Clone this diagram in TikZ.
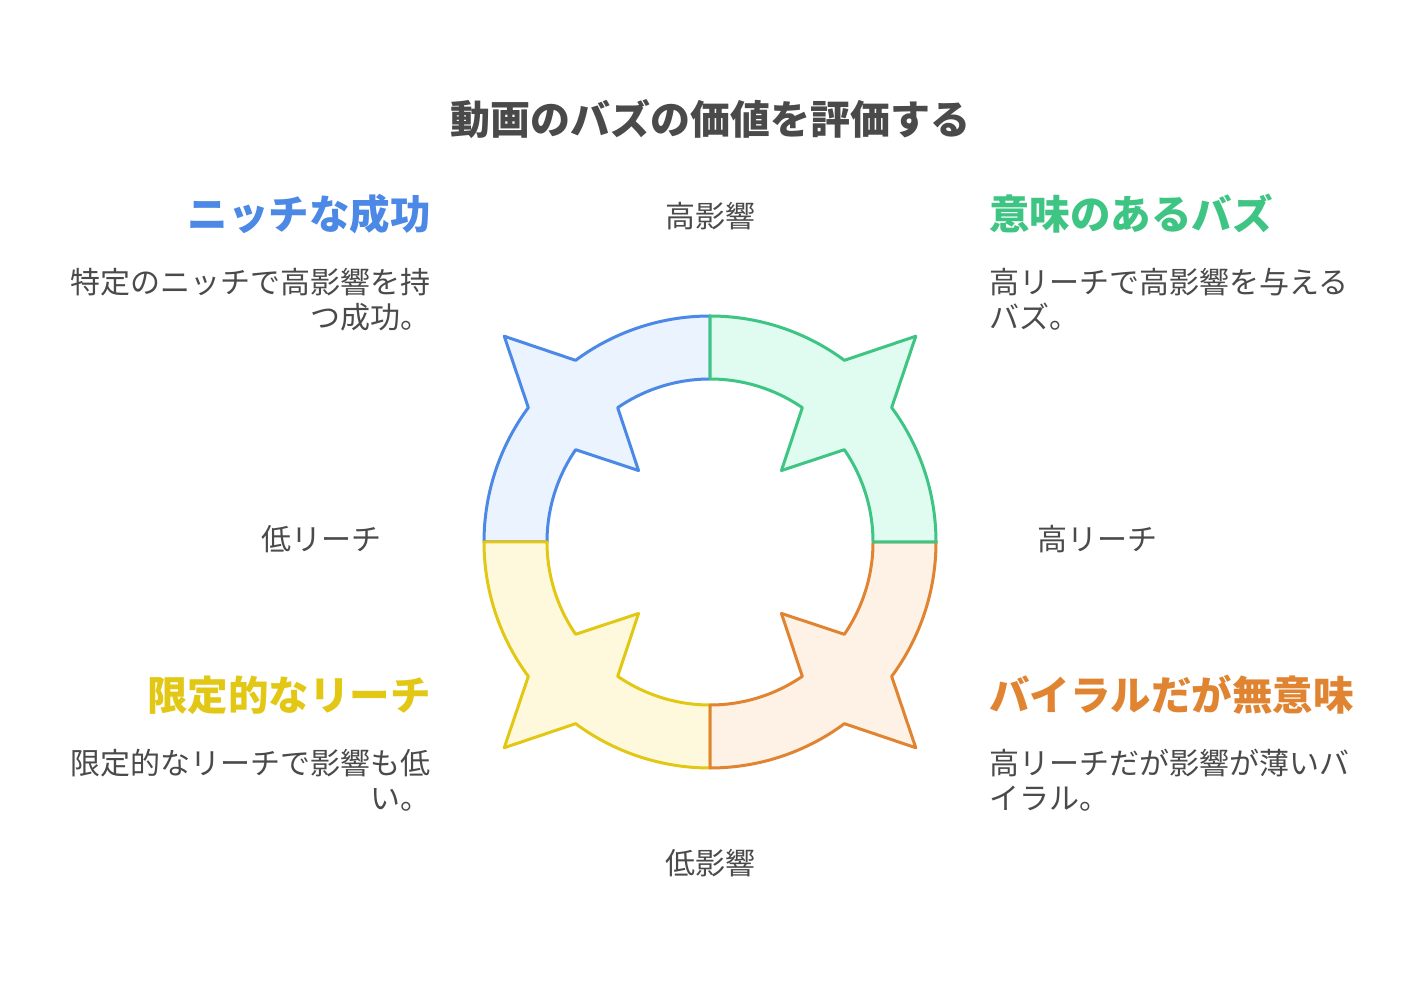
\documentclass[tikz,border=0pt]{standalone}
\usepackage{fontspec}
\setmainfont{Noto Sans CJK JP}
\usepackage{tikz}

\definecolor{nicheline}{HTML}{4C88E6}
\definecolor{nichefill}{HTML}{EBF4FE}
\definecolor{buzzline}{HTML}{3EC583}
\definecolor{buzzfill}{HTML}{E0FCF0}
\definecolor{viralline}{HTML}{E08431}
\definecolor{viralfill}{HTML}{FEF2E6}
\definecolor{limitline}{HTML}{E2C814}
\definecolor{limitfill}{HTML}{FEF9DC}
\definecolor{textgray}{HTML}{4A4A4A}

% one quarter of the ring, with spikes at its middle
\newcommand{\ringpiece}[4]{%
  \pgfmathsetmacro\mid{(#3+#4)/2}
  \draw [#1, fill=#2, line width=3pt, line join=round]
    (#3:226) arc [start angle=#3, end angle={\mid-8.5}, radius=226]
    -- (\mid:291) -- ({\mid+8.5}:226)
    arc [start angle={\mid+8.5}, end angle=#4, radius=226]
    -- (#4:163) arc [start angle=#4, end angle={\mid+10.5}, radius=163]
    -- (\mid:101) -- ({\mid-10.5}:163)
    arc [start angle={\mid-10.5}, end angle=#3, radius=163] -- cycle;
}

\begin{document}
\begin{tikzpicture}[x=1pt, y=1pt]
    \tikzstyle{every node}+=[inner sep=0pt, text=textgray]
    \tikzstyle{headtext}=[font=\fontsize{40.5}{46}\selectfont\bfseries]
    \tikzstyle{bodytext}=[font=\fontsize{30}{35}\selectfont]
    \useasboundingbox (0,0) rectangle (1420,988);
    \fill [white] (0,0) rectangle (1420,988);

    \node [headtext, font=\fontsize{40}{46}\selectfont\bfseries, anchor=base] (title) at (710,853) {動画のバズの価値を評価する};

    \begin{scope}[shift={(710,446)}]
        \ringpiece{nicheline}{nichefill}{90}{180}
        \ringpiece{limitline}{limitfill}{180}{270}
        \ringpiece{viralline}{viralfill}{270}{360}
        \ringpiece{buzzline}{buzzfill}{0}{90}
    \end{scope}

    \node [bodytext, anchor=base] (hiimpact) at (710,760) {高影響};
    \node [bodytext, anchor=base] (loimpact) at (710,114) {低影響};
    \node [bodytext, anchor=base] (loreach) at (321,437) {低リーチ};
    \node [bodytext, anchor=base] (hireach) at (1097,437) {高リーチ};

    \node [headtext, text=nicheline, anchor=base east] (nicheh) at (431,758) {ニッチな成功};
    \node [bodytext, anchor=base east, align=right] (nichet) at (431,659) {特定のニッチで高影響を持\\つ成功。};

    \node [headtext, text=buzzline, anchor=base west] (buzzh) at (989,758) {意味のあるバズ};
    \node [bodytext, anchor=base west, align=left] (buzzt) at (989,659) {高リーチで高影響を与える\\バズ。};

    \node [headtext, text=limitline, anchor=base east] (limith) at (431,277) {限定的なリーチ};
    \node [bodytext, anchor=base east, align=right] (limitt) at (431,179) {限定的なリーチで影響も低\\い。};

    \node [headtext, text=viralline, anchor=base west] (viralh) at (989,277) {バイラルだが無意味};
    \node [bodytext, anchor=base west, align=left] (viralt) at (989,179) {高リーチだが影響が薄いバ\\イラル。};
\end{tikzpicture}
\end{document}
